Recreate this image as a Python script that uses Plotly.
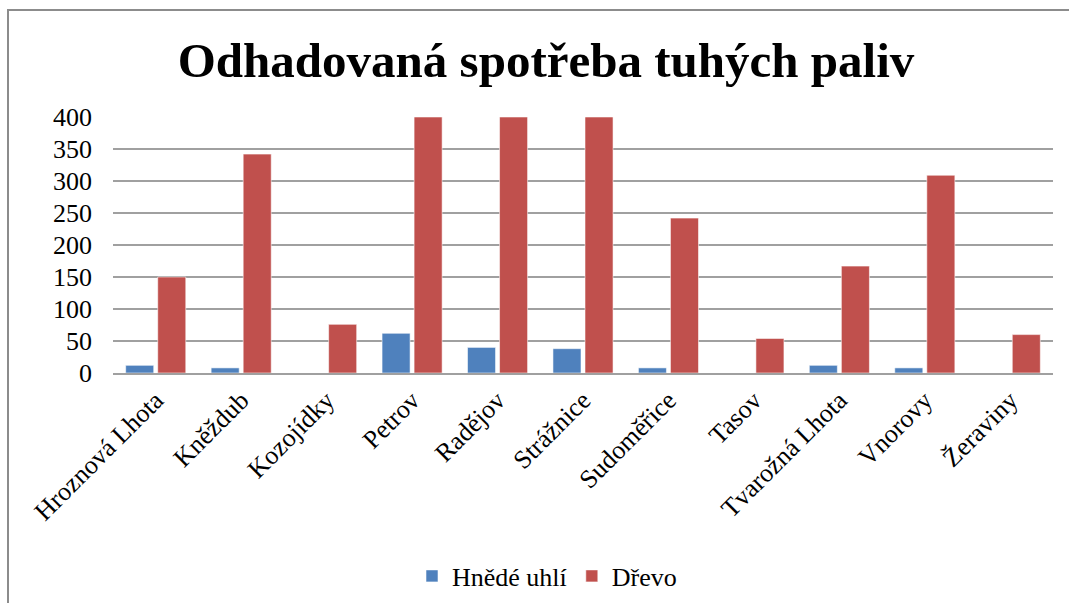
import plotly.graph_objects as go

categories = ["Hroznová Lhota", "Kněždub", "Kozojídky", "Petrov", "Radějov", "Strážnice",
              "Sudoměřice", "Tasov", "Tvarožná Lhota", "Vnorovy", "Žeraviny"]
hnede_uhli = [12, 8, 0, 62, 40, 38, 8, 0, 12, 8, 0]
drevo = [150, 342, 76, 400, 400, 400, 242, 54, 167, 309, 60]
y_ticks = [0, 50, 100, 150, 200, 250, 300, 350, 400]

W, H = 1069, 603
L, R, T, B = 113, 16, 117, 230
pw, ph = W - L - R, H - T - B

def px_x(p):
    return (p - L) / pw

def px_y(p):
    return (H - B - p) / ph

font_family = "Liberation Serif"

fig = go.Figure()
fig.add_trace(go.Bar(name="Hnědé uhlí", x=categories, y=hnede_uhli,
                     marker=dict(color="#4F81BD", line=dict(color="rgba(255,255,255,0.55)", width=1))))
fig.add_trace(go.Bar(name="Dřevo", x=categories, y=drevo,
                     marker=dict(color="#C0504D", line=dict(color="rgba(255,255,255,0.55)", width=1))))

fig.update_layout(
    width=W, height=H,
    margin=dict(l=L, r=R, t=T, b=B, autoexpand=False),
    paper_bgcolor="white", plot_bgcolor="white",
    barmode="group", bargap=0.25, bargroupgap=0.125,
    font=dict(family=font_family, size=26, color="black"),
    title=dict(text="<b>Odhadovaná spotřeba tuhých paliv</b>",
               font=dict(family=font_family, size=49, color="black"),
               x=546 / W, xanchor="center", xref="container",
               y=1 - 60 / H, yanchor="middle", yref="container"),
    showlegend=True,
    legend=dict(orientation="h", x=px_x(547), xanchor="center", y=px_y(576), yanchor="middle",
                font=dict(family=font_family, size=26, color="black"),
                itemwidth=30, tracegroupgap=0, bgcolor="rgba(0,0,0,0)"),
    shapes=[dict(type="rect", xref="paper", yref="paper",
                 x0=px_x(8), x1=px_x(W + 20), y0=px_y(H + 20), y1=px_y(10),
                 line=dict(color="#8C8C8C", width=2), fillcolor="rgba(0,0,0,0)", layer="below")],
)

fig.update_yaxes(range=[0, 400], tickvals=y_ticks, ticktext=[str(v) for v in y_ticks],
                 showgrid=True, gridcolor="#A0A0A0", gridwidth=1.5, automargin=False,
                 zeroline=False, showline=False, ticks="", ticklabelstandoff=20,
                 tickfont=dict(family=font_family, size=26, color="black"), fixedrange=True)
fig.update_xaxes(tickangle=-45, showline=True, linecolor="#A0A0A0", linewidth=1.5,
                 ticks="", showgrid=False, automargin=False,
                 tickfont=dict(family=font_family, size=26, color="black"))

fig.write_html("out.html", config={"displayModeBar": False},
               post_script="document.body.style.margin='0px';document.body.style.overflow='hidden';")
